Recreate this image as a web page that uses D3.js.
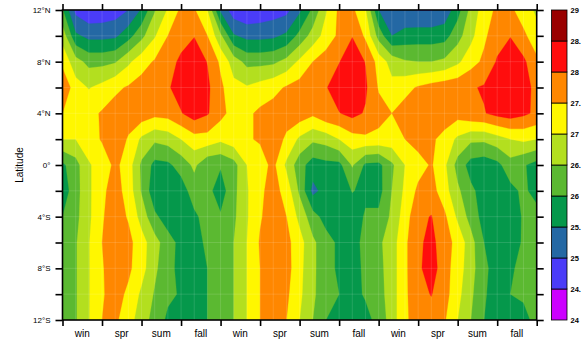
<!DOCTYPE html>
<html>
<head>
<meta charset="utf-8">
<script src="https://cdn.jsdelivr.net/npm/d3@7"></script>
<style>
  body { margin: 0; background: #fff; }
  svg { display: block; font-family: "Liberation Sans", Arial, sans-serif; }
</style>
</head>
<body>
<svg id="chart" width="582" height="339"></svg>
<script>
// seasons along x (3 years), monthly grid columns 0..36
const seasons = ['win', 'spr', 'sum', 'fall', 'win', 'spr', 'sum', 'fall', 'win', 'spr', 'sum', 'fall'];
const lats = [12, 10, 8, 6, 4, 2, 0, -2, -4, -6, -8, -10, -12];
const latTickLabels = { 12: '12°N', 8: '8°N', 4: '4°N', 0: '0°', '-4': '4°S', '-8': '8°S', '-12': '12°S' };

// contour levels and their fill colours (band [level, next level))
const levels = [24, 24.5, 25, 25.5, 26, 26.5, 27, 27.5, 28, 28.5, 29];
const levelLabels = ['24', '24.', '25', '25.', '26', '26.', '27', '27.', '28', '28.', '29'];
const bandColors = ['#cc00ff', '#4a3cf8', '#2468a4', '#05984b', '#5bb931', '#b3df1f', '#fff700', '#ff8700', '#ff0d0d', '#990000'];

// SST rows, one per latitude, month columns 0..36
const r12N = [26.05, 24.85, 24.6, 24.65, 24.75, 25.0, 25.55, 26.45, 27.05, 27.6, 27.55, 27.0, 25.4, 24.7, 24.55, 24.65, 24.75, 24.85, 25.4, 26.1, 26.95, 27.6, 27.6, 27.05, 25.5, 25.15, 25.05, 24.97, 24.97, 25.15, 25.8, 26.65, 27.25, 27.6, 27.6, 27.25, 26.9];
const r10N = [26.8, 25.6, 25.35, 25.35, 25.4, 25.8, 26.35, 26.95, 27.5, 27.8, 27.98, 27.5, 26.6, 25.55, 25.35, 25.35, 25.4, 25.6, 26.15, 26.7, 27.2, 27.6, 27.98, 27.4, 26.3, 25.5, 25.7, 25.75, 25.75, 25.8, 26.3, 26.85, 27.4, 27.8, 27.98, 27.6, 27.2];
const r8N = [27.35, 26.7, 26.35, 26.35, 26.45, 26.9, 27.3, 27.55, 27.8, 28.1, 28.3, 27.98, 27.4, 26.75, 26.35, 26.35, 26.4, 26.65, 27.1, 27.5, 27.75, 27.98, 28.3, 27.98, 27.3, 26.8, 26.55, 26.5, 26.5, 26.6, 26.9, 27.3, 27.6, 28.05, 28.3, 28.1, 27.6];
const r6N = [27.95, 27.2, 26.97, 27.15, 27.4, 27.55, 27.7, 27.8, 27.95, 28.2, 28.35, 28.1, 27.6, 27.15, 27.05, 27.2, 27.35, 27.55, 27.7, 27.8, 27.97, 28.25, 28.35, 28.08, 27.45, 27.15, 27.35, 27.55, 27.7, 27.8, 27.85, 27.95, 28.05, 28.3, 28.4, 28.2, 27.85];
const r4N = [27.5, 27.3, 27.35, 27.55, 27.7, 27.75, 27.8, 27.65, 27.7, 27.97, 28.25, 28.05, 27.65, 27.3, 27.4, 27.6, 27.7, 27.75, 27.8, 27.6, 27.9, 27.98, 28.15, 27.95, 27.7, 27.5, 27.7, 27.75, 27.8, 27.85, 27.7, 27.9, 27.97, 28.15, 28.25, 28.1, 27.9];
const r2N = [27.0, 27.0, 27.25, 27.55, 27.8, 27.45, 26.9, 26.6, 26.7, 27.0, 27.3, 27.3, 27.1, 27.3, 27.45, 27.55, 27.8, 27.4, 26.9, 26.6, 26.7, 27.0, 27.3, 27.4, 27.35, 27.3, 27.5, 27.7, 27.6, 27.3, 26.9, 26.6, 26.6, 26.8, 27.0, 27.1, 27.0];
const rEq = [25.9, 26.3, 26.95, 27.2, 27.62, 27.25, 26.4, 25.85, 25.9, 26.2, 26.6, 26.1, 26.05, 26.3, 27.0, 27.3, 27.62, 26.9, 26.2, 25.75, 25.85, 25.85, 26.55, 25.9, 25.85, 26.4, 27.0, 27.3, 27.55, 27.1, 26.3, 25.8, 25.7, 25.85, 26.3, 26.05, 25.8];
const r2S = [25.7, 26.3, 26.9, 27.4, 27.7, 27.3, 26.45, 25.65, 25.6, 25.75, 26.25, 26.15, 25.75, 26.35, 26.95, 27.4, 27.7, 27.3, 26.4, 25.35, 25.7, 25.75, 26.02, 25.9, 25.8, 26.5, 27.1, 27.6, 27.7, 27.2, 26.6, 26.1, 25.8, 25.75, 25.85, 26.1, 25.8];
const r4S = [26.0, 26.35, 26.9, 27.45, 27.75, 27.45, 26.8, 26.1, 25.75, 25.65, 25.9, 26.2, 26.05, 26.4, 26.95, 27.45, 27.75, 27.5, 26.85, 26.2, 25.8, 25.65, 25.75, 26.05, 26.1, 26.6, 27.25, 27.9, 28.02, 27.6, 26.9, 26.3, 25.8, 25.7, 25.75, 26.05, 26.2];
const r6S = [26.2, 26.45, 26.97, 27.5, 27.8, 27.65, 27.2, 26.7, 26.2, 25.85, 25.8, 26.1, 26.35, 26.5, 27.0, 27.55, 27.8, 27.65, 27.2, 26.6, 26.2, 25.9, 25.8, 26.15, 26.4, 26.75, 27.4, 27.9, 28.15, 27.7, 27.35, 26.7, 26.0, 25.7, 25.8, 26.05, 26.2];
const r8S = [26.2, 26.45, 26.97, 27.45, 27.8, 27.6, 27.2, 26.6, 26.15, 25.85, 25.8, 26.0, 26.3, 26.5, 27.0, 27.5, 27.8, 27.7, 27.15, 26.6, 26.2, 25.9, 25.8, 26.1, 26.35, 26.75, 27.4, 27.9, 28.25, 27.7, 27.25, 26.7, 26.1, 25.8, 25.95, 26.1, 26.2];
const r10S = [26.2, 26.45, 26.97, 27.45, 27.7, 27.4, 26.9, 26.45, 26.1, 25.95, 25.8, 26.0, 26.3, 26.5, 27.0, 27.5, 27.75, 27.6, 27.1, 26.6, 26.15, 26.0, 25.85, 26.05, 26.3, 26.75, 27.4, 27.85, 28.02, 27.7, 27.15, 26.6, 26.05, 25.8, 26.0, 26.05, 26.15];
const r12S = [26.2, 26.45, 26.97, 27.5, 27.6, 27.2, 26.75, 26.3, 25.9, 25.7, 25.75, 26.0, 26.3, 26.5, 27.0, 27.5, 27.7, 27.5, 27.0, 26.5, 26.0, 25.8, 25.7, 25.85, 26.15, 26.75, 27.4, 27.75, 27.8, 27.55, 27.0, 26.5, 26.0, 25.7, 25.65, 25.9, 26.1];

const grid = [r12N, r10N, r8N, r6N, r4N, r2N, rEq, r2S, r4S, r6S, r8S, r10S, r12S];

const nx = r12N.length, ny = grid.length;
const plot = { left: 62.5, right: 536.7, top: 10, bottom: 320 };

const svg = d3.select('#chart');

const x = d3.scaleLinear().domain([0, nx - 1]).range([plot.left, plot.right]);
const y = d3.scaleLinear().domain([12, -12]).range([plot.top, plot.bottom]);

svg.append('defs').append('clipPath').attr('id', 'clip')
  .append('rect')
  .attr('x', plot.left).attr('y', plot.top)
  .attr('width', plot.right - plot.left).attr('height', plot.bottom - plot.top);

// filled contours
const contours = d3.contours().size([nx, ny]).thresholds(levels.slice(0, -1))(grid.flat());
const proj = d3.geoTransform({
  point(px, py) {
    this.stream.point(x(px - 0.5), y(lats[0] + (py - 0.5) * (lats[1] - lats[0])));
  }
});
const path = d3.geoPath(proj);

const g = svg.append('g').attr('clip-path', 'url(#clip)');
g.selectAll('path')
  .data(contours)
  .enter()
  .append('path')
  .attr('d', path)
  .attr('fill', (d, i) => bandColors[i])
  .attr('stroke', (d, i) => bandColors[i])
  .attr('stroke-width', 0.3);

// faint data-grid seams
g.selectAll('.vseam')
  .data(d3.range(nx))
  .enter()
  .append('line')
  .attr('x1', (d) => x(d)).attr('x2', (d) => x(d))
  .attr('y1', plot.top).attr('y2', plot.bottom)
  .attr('stroke', '#fff').attr('stroke-opacity', 0.13);
g.selectAll('.hseam')
  .data(lats)
  .enter()
  .append('line')
  .attr('x1', plot.left).attr('x2', plot.right)
  .attr('y1', (d) => y(d)).attr('y2', (d) => y(d))
  .attr('stroke', '#fff').attr('stroke-opacity', 0.13);

// axes
const seasonTicks = d3.range(0, nx, 3);
const styleAxis = (sel) => {
  sel.select('.domain').remove();
  sel.selectAll('line').attr('stroke', '#000').attr('stroke-width', 1.6);
  sel.selectAll('text').attr('fill', '#000');
};

svg.append('g')
  .attr('transform', `translate(0,${plot.bottom})`)
  .call(d3.axisBottom(x).tickValues(seasonTicks).tickSize(6).tickFormat(''))
  .call(styleAxis);
svg.append('g')
  .attr('transform', `translate(0,${plot.top})`)
  .call(d3.axisTop(x).tickValues(seasonTicks).tickSize(6).tickFormat(''))
  .call(styleAxis);
svg.append('g')
  .attr('transform', `translate(${plot.left},0)`)
  .call(d3.axisLeft(y).tickValues(lats).tickSize(7).tickPadding(5)
    .tickFormat((d) => latTickLabels[d] || ''))
  .call(styleAxis)
  .selectAll('text').style('font-size', '8px');
svg.append('g')
  .attr('transform', `translate(${plot.right},0)`)
  .call(d3.axisRight(y).tickValues(lats).tickSize(7).tickFormat(''))
  .call(styleAxis);

// season labels centred in each 3-month block
const sx = d3.scaleBand().domain(d3.range(seasons.length)).range([plot.left, plot.right]);
svg.append('g').selectAll('text')
  .data(seasons)
  .enter()
  .append('text')
  .attr('x', (d, i) => sx(i) + sx.bandwidth() / 2)
  .attr('y', 336.5)
  .attr('text-anchor', 'middle')
  .style('font-size', '10px')
  .text((d) => d);

// frame
svg.append('rect')
  .attr('x', plot.left).attr('y', plot.top)
  .attr('width', plot.right - plot.left).attr('height', plot.bottom - plot.top)
  .attr('fill', 'none').attr('stroke', '#000').attr('stroke-width', 1.6);

svg.append('text')
  .attr('transform', `translate(23,${(plot.top + plot.bottom) / 2}) rotate(-90)`)
  .attr('text-anchor', 'middle')
  .style('font-size', '10px')
  .text('Latitude');

// colour bar
const cb = { left: 551.5, width: 15.5 };
const cy = d3.scaleLinear().domain([levels[0], levels[levels.length - 1]]).range([plot.bottom, plot.top]);
svg.append('g').selectAll('rect')
  .data(bandColors)
  .enter()
  .append('rect')
  .attr('x', cb.left)
  .attr('y', (d, i) => cy(levels[i + 1]))
  .attr('width', cb.width)
  .attr('height', (d, i) => cy(levels[i]) - cy(levels[i + 1]))
  .attr('fill', (d) => d)
  .attr('stroke', '#000')
  .attr('stroke-width', 0.8);
svg.append('g').selectAll('text')
  .data(levelLabels)
  .enter()
  .append('text')
  .attr('x', 570.5)
  .attr('y', (d, i) => cy(levels[i]) + 2.5)
  .style('font-size', '7.5px')
  .style('font-weight', 'bold')
  .text((d) => d);
</script>
</body>
</html>
